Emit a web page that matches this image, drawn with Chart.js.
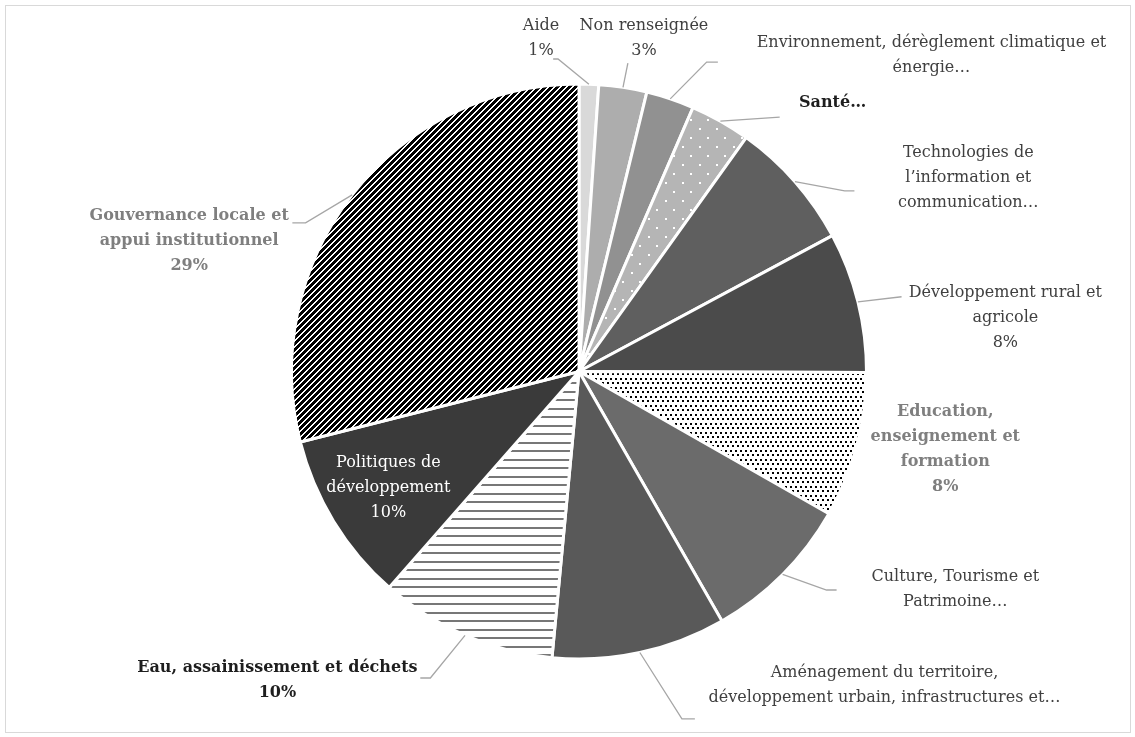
<!DOCTYPE html>
<html lang="fr">
<head>
<meta charset="utf-8">
<title>Répartition des projets par thématique</title>
<script src="https://cdn.jsdelivr.net/npm/chart.js@4.4.1/dist/chart.umd.min.js"></script>
<style>
  html, body { margin: 0; padding: 0; background: #fff; }
  #wrap { position: relative; width: 1135px; height: 737px; }
</style>
</head>
<body>
<div id="wrap"><canvas id="camembert"></canvas></div>
<script>
(function () {
  "use strict";

  // Thématiques (libellés découpés en lignes comme sur le graphique d'origine)
  const categories = [
    ["Aide"],
    ["Non renseignée"],
    ["Environnement, dérèglement climatique et", "énergie…"],
    ["Santé…"],
    ["Technologies de", "l’information et", "communication…"],
    ["Développement rural et", "agricole"],
    ["Education,", "enseignement et", "formation"],
    ["Culture, Tourisme et", "Patrimoine…"],
    ["Aménagement du territoire,", "développement urbain, infrastructures et…"],
    ["Eau, assainissement et déchets"],
    ["Politiques de", "développement"],
    ["Gouvernance locale et", "appui institutionnel"]
  ];
  const valeurs = [1.1, 2.7, 2.7, 3.4, 7.3, 7.9, 8.2, 8.5, 9.8, 10.0, 9.6, 29.0];
  // le pourcentage n'est affiché que pour certaines étiquettes
  const afficherPct = [true, true, false, false, false, true, true, false, false, true, true, true];

  // position des étiquettes et des traits de rappel, en rayons depuis le centre
  const placement = [
    { x: -0.132, y: -1.158, trait: [[-0.073, -1.087], [-0.090, -1.087]] },
    { x: 0.226, y: -1.158, trait: [[0.170, -1.073]] },
    { x: 1.226, y: -1.099, trait: [[0.444, -1.076], [0.483, -1.076]] },
    { x: 0.882, y: -0.934, trait: [[0.698, -0.885]] },
    { x: 1.354, y: -0.674, trait: [[0.924, -0.628], [0.958, -0.628]] },
    { x: 1.483, y: -0.185, trait: [[1.122, -0.260]] },
    { x: 1.274, y: 0.271, trait: null },
    { x: 1.309, y: 0.757, trait: [[0.861, 0.760], [0.896, 0.760]] },
    { x: 1.0625, y: 1.090, trait: [[0.358, 1.208], [0.403, 1.208]] },
    { x: -1.049, y: 1.073, trait: [[-0.517, 1.066], [-0.552, 1.066]] },
    { x: -0.663, y: 0.403, trait: null },
    { x: -1.356, y: -0.455, trait: [[-0.951, -0.517], [-0.997, -0.517]] }
  ];

  const POLICE = "'DejaVu Serif', 'Liberation Serif', serif";
  // n = normal, bn = gras noir, bg = gras gris, w = blanc
  const styleTexte = ["n", "n", "n", "bn", "n", "n", "bg", "n", "n", "bn", "w", "bg"];

  // ---- motifs (hachures, points, rayures) ----
  function motif(w, h, dessine) {
    const c = document.createElement("canvas");
    c.width = w; c.height = h;
    const g = c.getContext("2d");
    dessine(g, w, h);
    return g.createPattern(c, "repeat");
  }
  const hachure = motif(6, 6, (g) => {
    g.fillStyle = "#fff"; g.fillRect(0, 0, 6, 6);
    g.fillStyle = "#000";
    for (let x = 0; x < 6; x++) for (let y = 0; y < 6; y++) {
      if ((x + y) % 6 < 4) g.fillRect(x, y, 1, 1);
    }
  });
  const pointsBlancs = motif(17, 18, (g) => {
    g.fillStyle = "#b5b5b5"; g.fillRect(0, 0, 17, 18);
    g.fillStyle = "#fff";
    g.fillRect(2, 2, 2, 2); g.fillRect(10, 11, 2, 2);
  });
  const pointsNoirs = motif(10, 9, (g) => {
    g.fillStyle = "#fff"; g.fillRect(0, 0, 10, 9);
    g.fillStyle = "#000";
    g.fillRect(0, 0, 2, 2); g.fillRect(5, 0, 2, 2);
    g.fillRect(2, 4, 2, 2); g.fillRect(7, 4, 2, 2);
  });
  const rayures = motif(4, 17, (g) => {
    g.fillStyle = "#fff"; g.fillRect(0, 0, 4, 17);
    g.fillStyle = "#777";
    g.fillRect(0, 0, 4, 2); g.fillRect(0, 8, 4, 2);
  });

  const couleurs = [
    "#d9d9d9", "#adadad", "#919191", pointsBlancs, "#5f5f5f", "#4b4b4b",
    pointsNoirs, "#6b6b6b", "#595959", rayures, "#3a3a3a", hachure
  ];

  const cadre = {
    id: "cadre",
    beforeDraw(chart) {
      const ctx = chart.ctx;
      ctx.save();
      ctx.strokeStyle = "#d9d9d9"; ctx.lineWidth = 1;
      ctx.strokeRect(5.5, 5.5, 1125, 727);
      ctx.restore();
    }
  };

  const etiquettes = {
    id: "etiquettes",
    afterDatasetsDraw(chart) {
      const ctx = chart.ctx;
      const meta = chart.getDatasetMeta(0);
      const total = valeurs.reduce((a, b) => a + b, 0);
      ctx.save();
      meta.data.forEach((arc, i) => {
        const p = arc.getProps(["x", "y", "startAngle", "endAngle", "outerRadius"], true);
        const r = p.outerRadius, cx = p.x, cy = p.y;
        const mid = (p.startAngle + p.endAngle) / 2;
        const pl = placement[i];
        if (pl.trait) {
          ctx.beginPath();
          ctx.moveTo(cx + Math.cos(mid) * r, cy + Math.sin(mid) * r);
          pl.trait.forEach((pt) => ctx.lineTo(cx + pt[0] * r, cy + pt[1] * r));
          ctx.strokeStyle = "#a6a6a6"; ctx.lineWidth = 1.3;
          ctx.stroke();
        }
        const lignes = categories[i].slice();
        if (afficherPct[i]) lignes.push(Math.round(valeurs[i] / total * 100) + "%");
        const st = styleTexte[i];
        ctx.font = (st[0] === "b" ? "bold " : "") + "16px " + POLICE;
        ctx.fillStyle = st === "w" ? "#ffffff" : st === "bg" ? "#7f7f7f" : st === "bn" ? "#1e1e1e" : "#404040";
        ctx.textAlign = "center"; ctx.textBaseline = "middle";
        const lx = cx + pl.x * r, ly = cy + pl.y * r, h = 25;
        lignes.forEach((t, k) => ctx.fillText(t, lx, ly + (k - (lignes.length - 1) / 2) * h));
      });
      ctx.restore();
    }
  };

  new Chart(document.getElementById("camembert"), {
    type: "pie",
    data: {
      labels: categories,
      datasets: [{
        data: valeurs,
        backgroundColor: couleurs,
        borderColor: "#ffffff",
        borderWidth: 3,
        hoverBorderWidth: 3,
        hoverOffset: 0
      }]
    },
    options: {
      responsive: true,
      maintainAspectRatio: false,
      animation: false,
      layout: { padding: { left: 290, right: 267, top: 82, bottom: 76 } },
      plugins: { legend: { display: false }, tooltip: { enabled: false } }
    },
    plugins: [cadre, etiquettes]
  });
})();
</script>
</body>
</html>
